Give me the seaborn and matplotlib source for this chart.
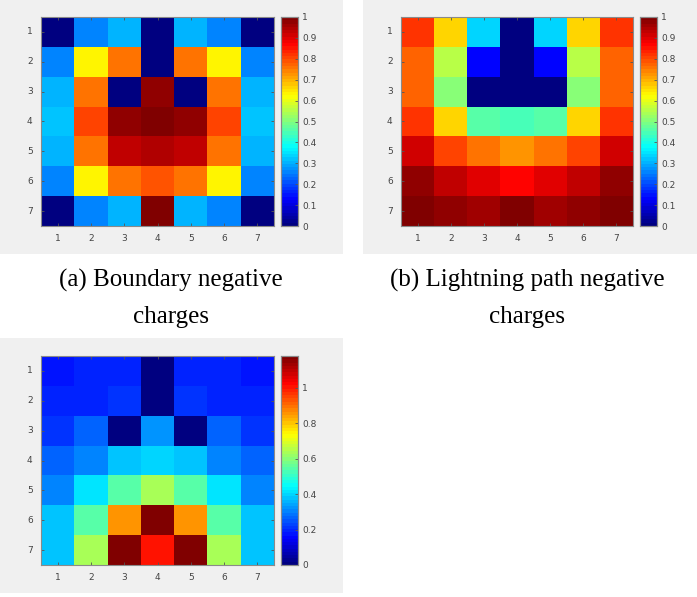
import numpy as np
import pandas as pd
import seaborn as sns
import matplotlib.pyplot as plt
from matplotlib.patches import Rectangle
from matplotlib.colors import LinearSegmentedColormap
from matplotlib.ticker import FormatStrFormatter

idx = [1, 2, 3, 4, 5, 6, 7]

# (a) boundary negative charges
boundary = [
    [0.00, 0.25, 0.31, 0.00, 0.31, 0.25, 0.00],
    [0.25, 0.63, 0.75, 0.00, 0.75, 0.63, 0.25],
    [0.30, 0.75, 0.00, 0.97, 0.00, 0.75, 0.30],
    [0.32, 0.80, 0.97, 1.00, 0.97, 0.80, 0.32],
    [0.30, 0.75, 0.93, 0.95, 0.93, 0.75, 0.30],
    [0.25, 0.63, 0.75, 0.79, 0.75, 0.63, 0.25],
    [0.00, 0.25, 0.31, 1.00, 0.31, 0.25, 0.00],
]

# (b) lightning path negative charges
lightning = [
    [0.82, 0.67, 0.34, 0.00, 0.34, 0.67, 0.82],
    [0.77, 0.56, 0.13, 0.00, 0.13, 0.56, 0.77],
    [0.77, 0.50, 0.00, 0.00, 0.00, 0.50, 0.77],
    [0.82, 0.67, 0.46, 0.45, 0.46, 0.67, 0.82],
    [0.91, 0.81, 0.76, 0.72, 0.76, 0.81, 0.91],
    [0.97, 0.93, 0.90, 0.86, 0.90, 0.93, 0.97],
    [1.00, 0.98, 0.96, 1.00, 0.96, 0.98, 1.00],
]

# (c) third map
combined = [
    [0.18, 0.19, 0.19, 0.00, 0.19, 0.19, 0.18],
    [0.20, 0.20, 0.22, 0.00, 0.22, 0.20, 0.20],
    [0.21, 0.26, 0.00, 0.32, 0.00, 0.26, 0.21],
    [0.27, 0.31, 0.38, 0.39, 0.38, 0.31, 0.27],
    [0.31, 0.41, 0.54, 0.64, 0.54, 0.41, 0.31],
    [0.37, 0.54, 0.85, 1.18, 0.85, 0.54, 0.37],
    [0.38, 0.64, 1.18, 1.01, 1.18, 0.64, 0.38],
]

captions = [["(a) Boundary negative", "charges"],
            ["(b) Lightning path negative", "charges"]]

# MATLAB style jet
matlab_jet = LinearSegmentedColormap("matlab_jet", {
    "red": [(0, 0, 0), (0.375, 0, 0), (0.625, 1, 1), (0.875, 1, 1), (1, 0.5, 0.5)],
    "green": [(0, 0, 0), (0.125, 0, 0), (0.375, 1, 1), (0.625, 1, 1), (0.875, 0, 0), (1, 0, 0)],
    "blue": [(0, 0.5, 0.5), (0.125, 1, 1), (0.375, 1, 1), (0.625, 0, 0), (1, 0, 0)],
}, N=64)

W, H = 697, 597
fig = plt.figure(figsize=(W / 100, H / 100), dpi=100)
fig.patch.set_facecolor("white")


def frac(x0, y0, x1, y1):
    return [x0 / W, 1 - y1 / H, (x1 - x0) / W, (y1 - y0) / H]


def panel(data, bg, hm, cb, cticks):
    fig.add_artist(Rectangle((bg[0] / W, 1 - bg[3] / H), (bg[2] - bg[0]) / W,
                             (bg[3] - bg[1]) / H, transform=fig.transFigure,
                             facecolor="#f0f0f0", edgecolor="none", zorder=0))
    ax = fig.add_axes(frac(*hm))
    cax = fig.add_axes(frac(*cb))
    df = pd.DataFrame(data, index=idx, columns=idx)
    arr = np.array(data)
    sns.heatmap(df, ax=ax, cbar_ax=cax, cmap=matlab_jet, vmin=arr.min(), vmax=arr.max())
    for a in (ax, cax):
        for s in a.spines.values():
            s.set_visible(True)
            s.set_color("#8a8a8a")
            s.set_linewidth(0.8)
    ax.tick_params(direction="in", length=2.5, width=0.6, color="#555555",
                   labelsize=6.5, labelcolor="#444444", top=True, right=True, pad=6)
    ax.set_yticklabels(idx, rotation=0)
    ax.set_xticklabels(idx, rotation=0)
    ax.set_xlabel("")
    ax.set_ylabel("")
    cax.set_yticks(cticks)
    cax.yaxis.set_major_formatter(FormatStrFormatter("%g"))
    cax.tick_params(direction="in", length=2.5, width=0.6, color="#555555",
                    labelsize=6.5, labelcolor="#444444", pad=3)


panel(boundary, (0, 0, 343, 254), (41, 17, 274, 226), (281, 17, 298, 226),
      np.round(np.arange(0, 1.01, 0.1), 1))
panel(lightning, (363, 0, 697, 254), (401, 17, 633, 226), (640, 17, 657, 226),
      np.round(np.arange(0, 1.01, 0.1), 1))
panel(combined, (0, 338, 343, 593), (41, 356, 274, 565), (281, 356, 298, 565),
      np.round(np.arange(0, 1.01, 0.2), 1))

for cx, lines in zip([171, 527], captions):
    for baseline, line in zip([287, 323], lines):
        fig.text(cx / W, 1 - baseline / H, line, ha="center", va="baseline",
                 fontsize=18, family="Liberation Serif", color="black")

fig.savefig("out.png", dpi=100)
